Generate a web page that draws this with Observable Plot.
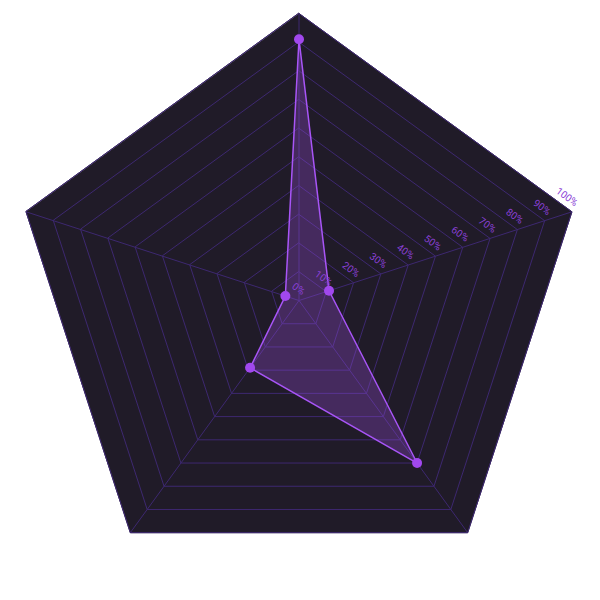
<!DOCTYPE html>
<html>
<head>
<meta charset="utf-8">
<script src="https://cdn.jsdelivr.net/npm/d3@7"></script>
<script src="https://cdn.jsdelivr.net/npm/@observablehq/plot@0.6"></script>
<style>
  html, body { margin: 0; padding: 0; background: #ffffff; }
  #chart { width: 600px; height: 600px; }
</style>
</head>
<body>
<div id="chart"></div>
<script>
// Axes (clockwise from top) and their values (percent)
const categories = ["A", "B", "C", "D", "E"];
const values = [91, 11, 70, 29, 5];
// Grid rings and their labels
const ticks = [0, 10, 20, 30, 40, 50, 60, 70, 80, 90, 100];
const tickLabels = ["0%", "10%", "20%", "30%", "40%", "50%", "60%", "70%", "80%", "90%", "100%"];
const labelAxis = 1; // labels drawn along the upper-right axis

const n = categories.length;
const angle = (i) => (i * 2 * Math.PI) / n;
const px = (i, v) => (v / 100) * Math.sin(angle(i));
const py = (i, v) => (v / 100) * Math.cos(angle(i));

const outline = categories.map((c, i) => ({x: px(i, 100), y: py(i, 100)}));
const rings = ticks.slice(1).flatMap((t) => categories.map((c, i) => ({ring: t, x: px(i, t), y: py(i, t)})));
const spokes = categories.map((c, i) => ({x1: 0, y1: 0, x2: px(i, 100), y2: py(i, 100)}));
const series = categories.map((c, i) => ({cat: c, value: values[i], x: px(i, values[i]), y: py(i, values[i])}));
const labels = ticks.map((t, k) => ({label: tickLabels[k], x: px(labelAxis, t), y: py(labelAxis, t)}));

const chart = Plot.plot({
  width: 600,
  height: 600,
  marginLeft: 11.5,
  marginRight: 14.5,
  marginTop: 13,
  marginBottom: 13,
  x: {domain: [-1, 1], axis: null},
  y: {domain: [-1, 1], axis: null},
  style: {background: "transparent", fontFamily: "Roboto, sans-serif"},
  marks: [
    Plot.line(outline, {x: "x", y: "y", curve: "linear-closed", fill: "#201b28", stroke: "#2e2145", strokeWidth: 1}),
    Plot.line(rings, {x: "x", y: "y", z: "ring", curve: "linear-closed", stroke: "#3d2870", strokeWidth: 1}),
    Plot.link(spokes, {x1: "x1", y1: "y1", x2: "x2", y2: "y2", stroke: "#3d2870", strokeWidth: 1}),
    Plot.line(series, {x: "x", y: "y", curve: "linear-closed", fill: "#9d4edd", fillOpacity: 0.3, stroke: "#a855f7", strokeWidth: 1.5}),
    Plot.dot(series, {x: "x", y: "y", r: 5, fill: "#a148ee", stroke: "none"}),
    Plot.text(labels, {x: "x", y: "y", text: "label", rotate: 36, textAnchor: "end", dx: 4.7, dy: -7.8, fill: "#8a40d6", fontSize: 10})
  ]
});
document.getElementById("chart").append(chart);
</script>
</body>
</html>
